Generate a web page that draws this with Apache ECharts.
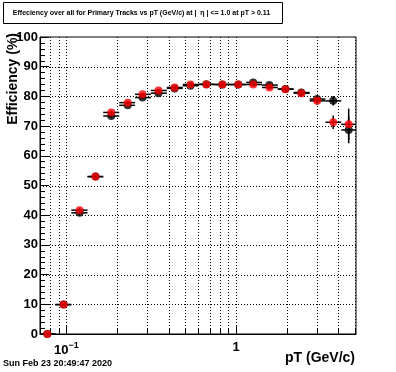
<!DOCTYPE html>
<html>
<head>
<meta charset="utf-8">
<script src="https://cdn.jsdelivr.net/npm/echarts@6/dist/echarts.min.js"></script>
<style>
html,body{margin:0;padding:0;background:#fff;}
#c{width:396px;height:372px;}
</style>
</head>
<body>
<div id="c"></div>
<script>
// ---- data ----
const titleText = 'Effeciency over all for Primary Tracks vs pT (GeV/c) at |  \u03b7 | <= 1.0 at pT > 0.11';
const dateText = 'Sun Feb 23 20:49:47 2020';
const xTitle = 'pT (GeV/c)';
const yTitle = 'Efficiency (%)';

const ptCenters = [0.0773, 0.0964, 0.1197, 0.1486, 0.184, 0.23, 0.281, 0.349, 0.434, 0.538,
                   0.668, 0.83, 1.03, 1.26, 1.57, 1.95, 2.42, 3.0, 3.73, 4.6];
const binLow  = [0.0694, 0.0863, 0.107, 0.1334, 0.165, 0.205, 0.254, 0.315, 0.391, 0.485,
                 0.601, 0.746, 0.925, 1.147, 1.42, 1.76, 2.18, 2.71, 3.36, 4.16];
const binHigh = [0.0863, 0.107, 0.1334, 0.165, 0.205, 0.254, 0.315, 0.391, 0.485, 0.601,
                 0.746, 0.925, 1.147, 1.42, 1.76, 2.18, 2.71, 3.36, 4.16, 5.16];

const effBlack = [0, 9.9, 40.8, 53.0, 73.4, 77.0, 79.6, 81.1, 82.7, 83.6,
                  84.1, 84.0, 84.0, 84.7, 83.8, 82.5, 81.3, 79.1, 78.5, 68.7];
const errBlack = [0, 0.3, 0.7, 0.6, 0.6, 0.5, 0.5, 0.5, 0.5, 0.5,
                  0.5, 0.5, 0.5, 0.6, 0.7, 0.8, 1.0, 1.3, 1.6, 4.5];
const effRed   = [0, 9.9, 41.7, 53.0, 74.6, 77.9, 80.7, 82.0, 83.0, 84.0,
                  84.0, 84.0, 84.0, 84.0, 83.0, 82.4, 81.1, 78.5, 71.3, 70.6];
const errRed   = [0, 0.3, 0.7, 0.6, 0.6, 0.5, 0.5, 0.5, 0.5, 0.5,
                  0.5, 0.5, 0.5, 0.6, 0.7, 0.8, 1.0, 1.3, 2.3, 5.3];

const xMajorTicks = [0.1, 1];
const xMinorTicks = [0.08, 0.09, 0.2, 0.3, 0.4, 0.5, 0.6, 0.7, 0.8, 0.9, 2, 3, 4, 5];
const yMajorTicks = [10, 20, 30, 40, 50, 60, 70, 80, 90];

// ---- chart ----
const chart = echarts.init(document.getElementById('c'));
const FONT = '"Liberation Sans", Arial, Helvetica, sans-serif';

function pointsData(eff, err) {
  return ptCenters.map((x, i) => [x, eff[i], binLow[i], binHigh[i], err[i]]);
}

function errRender(color) {
  return function (params, api) {
    const cs = params.coordSys;
    const x = api.value(0), y = api.value(1), lo = api.value(2), hi = api.value(3), e = api.value(4);
    const clampX = v => Math.max(cs.x, Math.min(cs.x + cs.width, v));
    const clampY = v => Math.max(cs.y, Math.min(cs.y + cs.height, v));
    const pL = api.coord([lo, y]), pH = api.coord([hi, y]);
    const pT = api.coord([x, y + e]), pB = api.coord([x, y - e]);
    const st = {stroke: color, lineWidth: 1.5};
    return {
      type: 'group',
      children: [
        {type: 'line', shape: {x1: clampX(pL[0]), y1: pL[1], x2: clampX(pH[0]), y2: pH[1]}, style: st},
        {type: 'line', shape: {x1: pT[0], y1: clampY(pT[1]), x2: pB[0], y2: clampY(pB[1])}, style: st}
      ]
    };
  };
}

function gridRender(params, api) {
  const cs = params.coordSys;
  const children = [];
  const dot = {stroke: '#000', lineWidth: 1, lineDash: [1, 2]};
  const allX = xMinorTicks.concat(xMajorTicks);
  allX.forEach(v => {
    const p = api.coord([v, 0]);
    const x = Math.round(p[0]) + 0.5;
    children.push({type: 'line', shape: {x1: x, y1: cs.y, x2: x, y2: cs.y + cs.height}, style: dot});
  });
  yMajorTicks.forEach(v => {
    const p = api.coord([1, v]);
    const y = Math.round(p[1]) + 0.5;
    children.push({type: 'line', shape: {x1: cs.x, y1: y, x2: cs.x + cs.width, y2: y}, style: dot});
  });
  // x-axis tick marks (inside, upward)
  xMinorTicks.forEach(v => {
    const x = Math.round(api.coord([v, 0])[0]) + 0.5;
    children.push({type: 'line', shape: {x1: x, y1: cs.y + cs.height, x2: x, y2: cs.y + cs.height - 5}, style: {stroke: '#000', lineWidth: 1}});
  });
  xMajorTicks.forEach(v => {
    const x = Math.round(api.coord([v, 0])[0]) + 0.5;
    children.push({type: 'line', shape: {x1: x, y1: cs.y + cs.height, x2: x, y2: cs.y + cs.height - 9}, style: {stroke: '#000', lineWidth: 1}});
  });
  return {type: 'group', children: children, silent: true};
}

const option = {
  backgroundColor: '#fff',
  animation: false,
  grid: {left: 40, right: 40, top: 37, bottom: 38, show: true, borderColor: '#000', borderWidth: 1, backgroundColor: '#fff'},
  xAxis: {
    type: 'log', logBase: 10, min: 0.07, max: 5.08,
    axisLine: {show: true, lineStyle: {color: '#000', width: 1}},
    axisTick: {show: false},
    splitLine: {show: false},
    minorTick: {show: false},
    axisLabel: {
      margin: 7, showMinLabel: false, showMaxLabel: false,
      color: '#000', fontFamily: FONT, fontWeight: 'bold', fontSize: 13,
      formatter: function (v) {
        if (Math.abs(v - 0.1) < 1e-6) return '{b|10}{s|\u22121}';
        if (Math.abs(v - 1) < 1e-6) return '{b|1}';
        return '';
      },
      rich: {
        b: {fontFamily: FONT, fontWeight: 'bold', fontSize: 13, color: '#000'},
        s: {fontFamily: FONT, fontWeight: 'bold', fontSize: 9, color: '#000', padding: [0, 0, 9, 0]}
      }
    }
  },
  yAxis: {
    type: 'value', min: 0, max: 100, interval: 10,
    axisLine: {show: true, lineStyle: {color: '#000', width: 1}},
    axisTick: {show: true, inside: true, length: 9, lineStyle: {color: '#000'}},
    minorTick: {show: true, splitNumber: 5, length: 5, lineStyle: {color: '#000'}},
    splitLine: {show: false},
    axisLabel: {margin: 2, color: '#000', fontFamily: FONT, fontWeight: 'bold', fontSize: 13}
  },
  series: [
    {type: 'custom', renderItem: gridRender, data: [[1, 0]], silent: true, z: 1},
    {type: 'custom', renderItem: errRender('#000'), data: pointsData(effBlack, errBlack), z: 2},
    {type: 'scatter', data: ptCenters.map((x, i) => [x, effBlack[i]]), symbol: 'circle', symbolSize: 8,
     itemStyle: {color: '#000'}, z: 3, clip: false},
    {type: 'custom', renderItem: errRender('#000'), data: pointsData(effRed, errRed), z: 4},
    {type: 'scatter', data: ptCenters.map((x, i) => [x, effRed[i]]), symbol: 'circle', symbolSize: 8,
     itemStyle: {color: '#ff0000'}, z: 5, clip: false}
  ],
  graphic: [
    {type: 'rect', shape: {x: 3.5, y: 2.5, width: 279, height: 21}, style: {fill: '#fff', stroke: '#000', lineWidth: 1}, z: 10},
    {type: 'text', x: 141.5, y: 13.5, z: 11,
     style: {text: titleText, fill: '#000', font: 'bold 7px ' + FONT, align: 'center', verticalAlign: 'middle'}},
    {type: 'text', x: 13, y: 33, rotation: Math.PI / 2, z: 11,
     style: {text: yTitle, fill: '#000', font: 'bold 14px ' + FONT, align: 'right', verticalAlign: 'middle'}},
    {type: 'text', x: 355, y: 358, z: 11,
     style: {text: xTitle, fill: '#000', font: 'bold 14px ' + FONT, align: 'right', verticalAlign: 'middle'}},
    {type: 'text', x: 3, y: 364, z: 11,
     style: {text: dateText, fill: '#000', font: 'bold 9px ' + FONT, align: 'left', verticalAlign: 'middle'}}
  ]
};
chart.setOption(option);
</script>
</body>
</html>
